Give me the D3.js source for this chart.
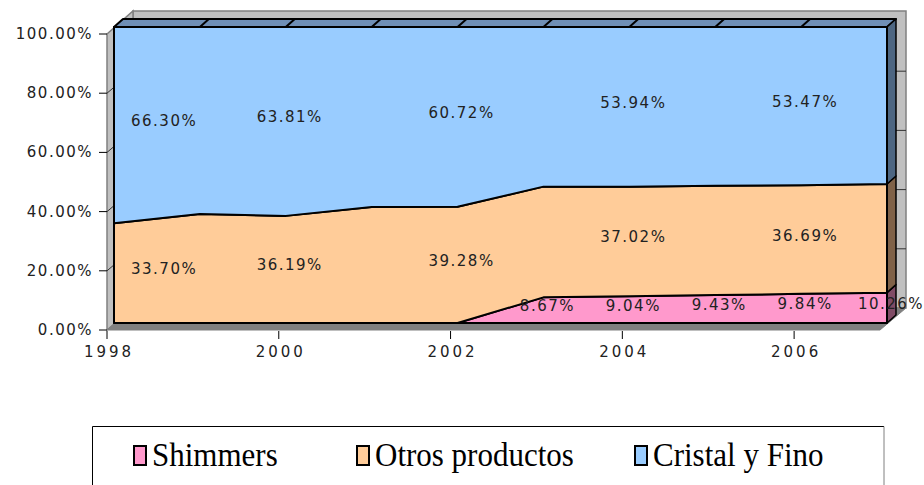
<!DOCTYPE html>
<html>
<head>
<meta charset="utf-8">
<script src="https://cdn.jsdelivr.net/npm/d3@7/dist/d3.min.js"></script>
<style>
  html, body { margin: 0; padding: 0; background: #fff; }
  svg { display: block; }
</style>
</head>
<body>
<svg id="chart" width="924" height="485"></svg>
<script>
// ---- data ----
const years = [1998, 1999, 2000, 2001, 2002, 2003, 2004, 2005, 2006, 2007];
const seriesNames = ["Shimmers", "Otros productos", "Cristal y Fino"];
const shimmers = [0, 0, 0, 0, 0, 8.67, 9.04, 9.43, 9.84, 10.26];
const otros    = [33.70, 36.80, 36.19, 39.20, 39.28, 37.40, 37.02, 36.90, 36.69, 36.70];
const cristal  = [66.30, 63.20, 63.81, 60.80, 60.72, 53.93, 53.94, 53.67, 53.47, 53.04];
const labelYears = [
  [2003, 2004, 2005, 2006, 2007],
  [1998, 2000, 2002, 2004, 2006],
  [1998, 2000, 2002, 2004, 2006]
];
const yTicks = [0, 20, 40, 60, 80, 100];
const xTicks = [1998, 2000, 2002, 2004, 2006];

// ---- styling ----
const fills = ["#FF99CC", "#FFCC99", "#99CCFF"];
const sideFills = ["#804C66", "#806248", "#4D6682"];
const topFill = "#6F8FB6";
const wallFill = "#C0C0C0";
const wallLine = "#808080";
const floorFill = "#808080";

const svg = d3.select("#chart");

// front face of the series
const x = d3.scaleLinear().domain([1998, 2007]).range([114, 887]);
const y = d3.scaleLinear().domain([0, 100]).range([323, 27]);
// front edge of the floor / value axis
const xa = d3.scaleLinear().domain([1998, 2007]).range([107, 880]);
const ya = d3.scaleLinear().domain([0, 100]).range([330, 34]);
// back wall
const xb = d3.scaleLinear().domain([1998, 2007]).range([133, 906]);
const yb = d3.scaleLinear().domain([0, 100]).range([308, 12]);
// depth of the series slab
const dx = 9, dy = -8;

const table = years.map((yr, i) => ({
  year: yr, [seriesNames[0]]: shimmers[i], [seriesNames[1]]: otros[i], [seriesNames[2]]: cristal[i]
}));
const stacked = d3.stack().keys(seriesNames)(table);

const pts = a => a.map(p => p.join(",")).join(" ");

// ---- walls and floor ----
const ax0 = xa.range()[0], ax1 = xa.range()[1];
const bx0 = xb.range()[0], bx1 = xb.range()[1];
svg.append("polygon") // back wall
  .attr("points", pts([[bx0, yb(100) - 1], [bx1, yb(100) - 1], [bx1, yb(0)], [bx0, yb(0)]]))
  .attr("fill", wallFill).attr("stroke", wallLine).attr("stroke-width", 1.5);
svg.append("polygon") // side wall
  .attr("points", pts([[ax0, ya(100)], [bx0, yb(100) - 1], [bx0, yb(0)], [ax0, ya(0)]]))
  .attr("fill", wallFill).attr("stroke", wallLine).attr("stroke-width", 1.5);
svg.append("polygon") // floor
  .attr("points", pts([[ax0, ya(0)], [bx0, yb(0)], [bx1, yb(0)], [ax1, ya(0)]]))
  .attr("fill", floorFill).attr("stroke", wallLine).attr("stroke-width", 1);

// gridlines on the walls
yTicks.filter(t => t > 0 && t < 100).forEach(t => {
  svg.append("polyline")
    .attr("points", pts([[ax0, ya(t)], [bx0, yb(t)], [bx1, yb(t)]]))
    .attr("fill", "none").attr("stroke", "#333").attr("stroke-width", 1);
});

// ---- top face of the upper series ----
svg.append("polygon")
  .attr("points", pts([[x(1998), y(100)], [x(2007), y(100)], [x(2007) + dx, y(100) + dy], [x(1998) + dx, y(100) + dy]]))
  .attr("fill", topFill).attr("stroke", "#000").attr("stroke-width", 2).attr("stroke-linejoin", "round");
years.slice(1, -1).forEach(yr => {
  svg.append("line")
    .attr("x1", x(yr)).attr("y1", y(100)).attr("x2", x(yr) + dx).attr("y2", y(100) + dy)
    .attr("stroke", "#000").attr("stroke-width", 2);
});

// ---- right side faces ----
stacked.forEach((s, i) => {
  const last = s[s.length - 1];
  const xr = x(years[years.length - 1]);
  svg.append("polygon")
    .attr("points", pts([[xr, y(last[1])], [xr + dx, y(last[1]) + dy], [xr + dx, y(last[0]) + dy], [xr, y(last[0])]]))
    .attr("fill", sideFills[i]).attr("stroke", "#000").attr("stroke-width", 1.5).attr("stroke-linejoin", "round");
});

// ---- front faces ----
const area = d3.area().x(d => x(d.data.year)).y0(d => y(d[0])).y1(d => y(d[1]));
svg.selectAll("path.front").data(stacked).join("path")
  .attr("class", "front")
  .attr("d", area)
  .attr("fill", (d, i) => fills[i])
  .attr("stroke", "#000").attr("stroke-width", 2).attr("stroke-linejoin", "round");

// ---- data labels ----
const labelFont = "'DejaVu Sans', sans-serif";
const fmt = d3.format(".2f");
stacked.forEach((s, i) => {
  labelYears[i].forEach(yr => {
    const d = s[years.indexOf(yr)];
    const t = svg.append("text")
      .attr("font-family", labelFont).attr("font-size", 15).attr("letter-spacing", 1.5)
      .attr("fill", "#222").attr("text-anchor", "middle").attr("dominant-baseline", "central")
      .text(fmt(d[1] - d[0]) + "%");
    const w = t.node().getComputedTextLength();
    const cx = Math.max(x(yr) + 4, x(1998) + 17 + w / 2);
    t.attr("x", cx).attr("y", y((d[0] + d[1]) / 2) - 4);
  });
});

// ---- value axis ----
yTicks.forEach(t => {
  svg.append("line").attr("x1", ax0 - 8).attr("x2", ax0).attr("y1", ya(t)).attr("y2", ya(t))
    .attr("stroke", "#000").attr("stroke-width", 1);
  svg.append("text")
    .attr("x", ax0 - 14).attr("y", ya(t)).attr("text-anchor", "end").attr("dominant-baseline", "central")
    .attr("font-family", labelFont).attr("font-size", 15).attr("letter-spacing", 1.5).attr("fill", "#222")
    .text(fmt(t) + "%");
});

// ---- category axis ----
xTicks.forEach(t => {
  svg.append("line").attr("x1", xa(t)).attr("x2", xa(t)).attr("y1", ya(0) + 1).attr("y2", ya(0) + 9)
    .attr("stroke", "#000").attr("stroke-width", 1);
  svg.append("text")
    .attr("x", xa(t) + 2).attr("y", ya(0) + 22).attr("text-anchor", "middle").attr("dominant-baseline", "central")
    .attr("font-family", labelFont).attr("font-size", 15).attr("letter-spacing", 3).attr("fill", "#222")
    .text(t);
});

// ---- legend ----
const legend = svg.append("g");
legend.append("line").attr("x1", 92.5).attr("x2", 884).attr("y1", 426.5).attr("y2", 426.5).attr("stroke", "#000");
legend.append("line").attr("x1", 92.5).attr("x2", 92.5).attr("y1", 426.5).attr("y2", 490).attr("stroke", "#000");
legend.append("line").attr("x1", 884).attr("x2", 884).attr("y1", 426.5).attr("y2", 490).attr("stroke", "#808080");
const legendX = [134, 357, 635];
seriesNames.forEach((name, i) => {
  legend.append("rect")
    .attr("x", legendX[i]).attr("y", 446).attr("width", 12).attr("height", 19)
    .attr("fill", fills[i]).attr("stroke", "#000").attr("stroke-width", 2);
  legend.append("text")
    .attr("transform", `translate(${legendX[i] + 18},466) scale(1,1.12)`)
    .attr("font-family", "'Liberation Serif', 'Times New Roman', serif").attr("font-size", 31)
    .attr("fill", "#000")
    .text(name);
});
</script>
</body>
</html>
